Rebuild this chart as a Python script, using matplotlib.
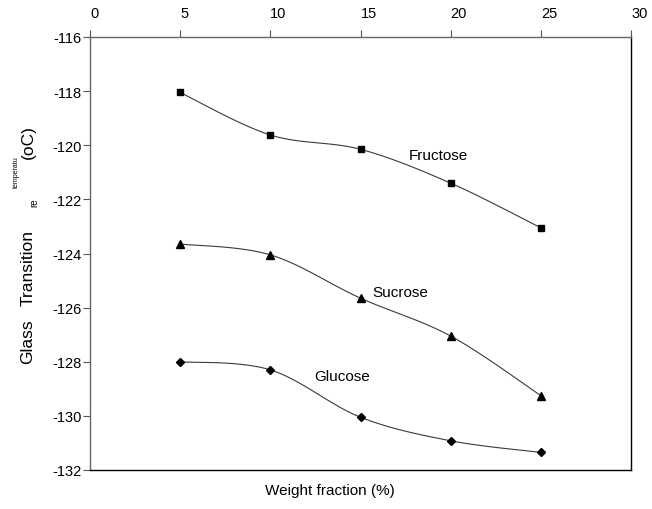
import numpy as np
import matplotlib
matplotlib.use("Agg")
import matplotlib.pyplot as plt

plt.rcParams['font.family'] = ['Liberation Sans', 'DejaVu Sans']
plt.rcParams['axes.unicode_minus'] = False

weight_fraction = [5, 10, 15, 20, 25]
fructose = [-118.05, -119.62, -120.15, -121.4, -123.05]
sucrose = [-123.65, -124.05, -125.65, -127.05, -129.25]
glucose = [-128.0, -128.3, -130.05, -130.92, -131.35]


def smooth(x, y, n=30):
    # Excel-style smoothed line (Catmull-Rom through the points)
    x = np.asarray(x, float)
    y = np.asarray(y, float)
    px = np.concatenate([[x[0]], x, [x[-1]]])
    py = np.concatenate([[y[0]], y, [y[-1]]])
    xs, ys = [], []
    t = np.linspace(0, 1, n)
    for i in range(1, len(px) - 2):
        p0, p1, p2, p3 = (np.array([px[j], py[j]]) for j in range(i - 1, i + 3))
        c1 = p1 + (p2 - p0) / 6
        c2 = p2 - (p3 - p1) / 6
        pts = ((1 - t) ** 3)[:, None] * p1 + (3 * (1 - t) ** 2 * t)[:, None] * c1 \
            + (3 * (1 - t) * t ** 2)[:, None] * c2 + (t ** 3)[:, None] * p2
        xs.extend(pts[:, 0])
        ys.extend(pts[:, 1])
    return xs, ys


fig = plt.figure(figsize=(6.52, 5.10), dpi=100)
ax = fig.add_axes([90 / 652, 1 - 471 / 510, 541 / 652, 433 / 510])

for vals, mk, ms in [(fructose, 's', 5), (sucrose, '^', 5.5), (glucose, 'D', 4)]:
    sx, sy = smooth(weight_fraction, vals)
    ax.plot(sx, sy, color='#3a3a3a', lw=0.8)
    ax.plot(weight_fraction, vals, linestyle='none', marker=mk, ms=ms, color='black')

ax.text(19.3, -120.36, "Fructose", fontsize=11, ha='center', va='center')
ax.text(17.2, -125.41, "Sucrose", fontsize=11, ha='center', va='center')
ax.text(14.0, -128.52, "Glucose", fontsize=11, ha='center', va='center')

ax.set_xlim(0, 30)
ax.set_ylim(-132, -116)
ax.set_xticks(range(0, 31, 5))
ax.set_yticks(range(-132, -115, 2))
ax.xaxis.tick_top()
ax.tick_params(axis='x', direction='out', length=5, pad=7, labelsize=10.5, color='#555555')
ax.tick_params(axis='y', direction='out', length=5, pad=1, labelsize=10.5, color='#555555')
for lbl in ax.get_xticklabels():
    lbl.set_horizontalalignment('left')
for s in ['top', 'left']:
    ax.spines[s].set_color('#666666')
for s in ['bottom', 'right']:
    ax.spines[s].set_color('black')
for s in ax.spines.values():
    s.set_linewidth(1.0)

fig.text(330 / 652, 1 - 491 / 510, "Weight fraction (%)", fontsize=11, ha='center', va='center')

# broken-up y label, as in the original
fig.text(28 / 652, 1 - 342 / 510, "Glass", fontsize=12.5, rotation=90, ha='center', va='center')
fig.text(28 / 652, 1 - 268 / 510, "Transition", fontsize=12.5, rotation=90, ha='center', va='center')
fig.text(34 / 652, 1 - 203 / 510, "re", fontsize=7, rotation=90, ha='center', va='center')
fig.text(16 / 652, 1 - 172 / 510, "temperatu", fontsize=5, rotation=90, ha='center', va='center')
fig.text(28 / 652, 1 - 142 / 510, "(oC)", fontsize=12.5, rotation=90, ha='center', va='center')

fig.savefig("out.png", dpi=100)
